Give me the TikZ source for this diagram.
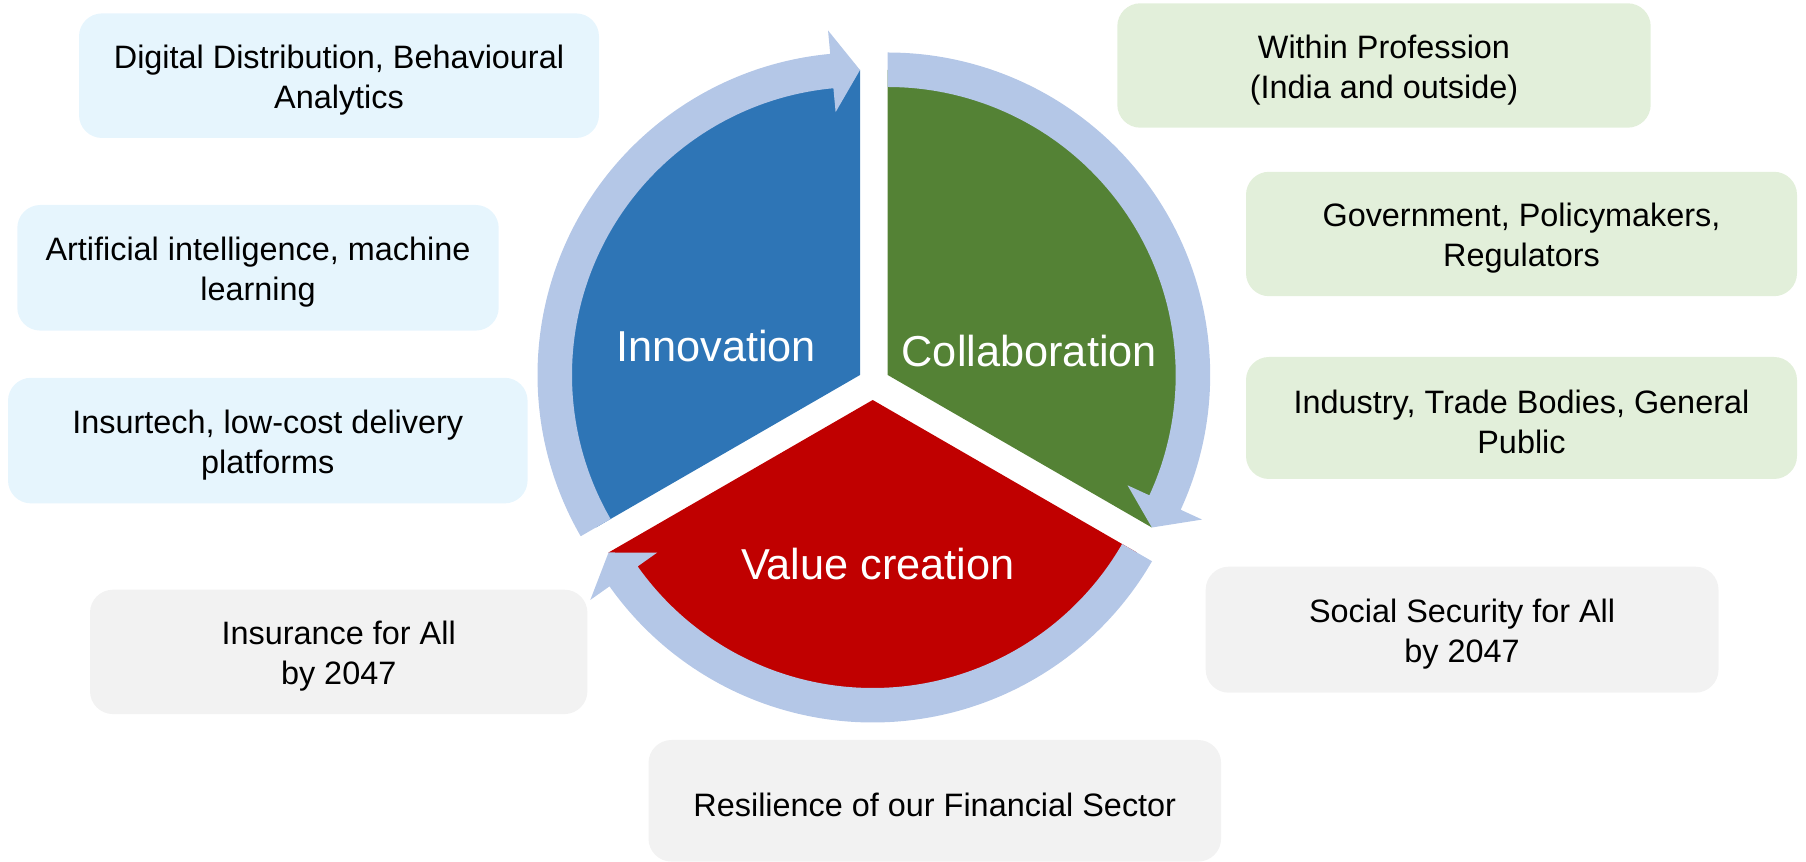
\documentclass[tikz,border=0pt]{standalone}
\usepackage{fontspec}
\setmainfont{Liberation Sans}

\definecolor{innoblue}{RGB}{46,117,182}
\definecolor{collabgreen}{RGB}{84,130,53}
\definecolor{valuered}{RGB}{192,0,0}
\definecolor{ringblue}{RGB}{180,199,231}
\definecolor{boxblue}{RGB}{230,245,253}
\definecolor{boxgreen}{RGB}{226,239,218}
\definecolor{boxgrey}{RGB}{242,242,242}

% keeps the first line of a box a little lower
\newcommand{\boxstrut}{\rule{0pt}{16pt}}

% curved arrow round one sector: centre, tail angle, tip angle
\newcommand{\cyclearrow}[3]{%
  \begin{scope}[shift={#1}]
    \pgfmathsetmacro{\backangle}{#3+5.3}
    \fill[ringblue] (#2:288) arc[start angle=#2, end angle=\backangle, radius=288]
      -- (\backangle:264) -- (#3:305) -- (\backangle:346) -- (\backangle:322.5)
      arc[start angle=\backangle, end angle=#2, radius=322.5] -- cycle;
  \end{scope}}

\begin{document}
\begin{tikzpicture}[x=0.5pt,y=0.5pt]
\tikzset{ideabox/.style={rounded corners=11.5pt, inner sep=0pt, align=center, text=black, font=\fontsize{16.2}{20}\selectfont}}
\tikzset{cyclelabel/.style={inner sep=0pt, anchor=base, text=white, font=\fontsize{21.65}{26}\selectfont}}
\useasboundingbox (0,0) rectangle (1806,862);

% centres of the three sectors
\coordinate (inno) at (860,487);
\coordinate (collab) at (887.7,487);
\coordinate (value) at (872.7,462);

\fill[innoblue] (inno) -- ++(90:305) arc[start angle=90, end angle=210, radius=305] -- cycle;
\fill[collabgreen] (collab) -- ++(90:305) arc[start angle=90, end angle=-30, radius=305] -- cycle;
\fill[valuered] (value) -- ++(-30:305) arc[start angle=-30, end angle=-150, radius=305] -- cycle;

% ring of arrows on top
\cyclearrow{(inno)}{210}{90}
\cyclearrow{(collab)}{90}{-30}
\cyclearrow{(value)}{330}{210}

\node[cyclelabel] (innolbl) at (716,500.3) {Innovation};
\node[cyclelabel] (collablbl) at (1029.3,495.3) {Collaboration};
\node[cyclelabel] (valuelbl) at (878,282.6) {Value creation};

% innovation side
\node[ideabox, fill=boxblue, minimum width=260pt, minimum height=62.3pt] (digital) at (339,786.3) {\boxstrut Digital Distribution, Behavioural\\Analytics};
\node[ideabox, fill=boxblue, minimum width=240.7pt, minimum height=62.8pt] (ai) at (258,594.2) {\boxstrut Artificial intelligence, machine\\learning};
\node[ideabox, fill=boxblue, minimum width=259.8pt, minimum height=62.8pt] (insurtech) at (267.8,421.4) {\boxstrut Insurtech, low-cost delivery\\platforms};

% collaboration side
\node[ideabox, fill=boxgreen, minimum width=266.7pt, minimum height=62.2pt] (profession) at (1384,796.5) {\boxstrut Within Profession\\(India and outside)};
\node[ideabox, fill=boxgreen, minimum width=275.5pt, minimum height=62.2pt] (govt) at (1521.5,628) {\boxstrut Government, Policymakers,\\Regulators};
\node[ideabox, fill=boxgreen, minimum width=275.5pt, minimum height=61pt] (industry) at (1521.5,444) {\boxstrut Industry, Trade Bodies, General\\Public};

% goals
\node[ideabox, fill=boxgrey, minimum width=248.7pt, minimum height=62.2pt] (insurance) at (338.7,210.1) {\boxstrut Insurance for All\\by 2047};
\node[ideabox, fill=boxgrey, minimum width=256.4pt, minimum height=63pt] (social) at (1462.1,232.3) {\boxstrut Social Security for All\\by 2047};
\node[ideabox, fill=boxgrey, minimum width=286.3pt, minimum height=60.8pt] (resilience) at (934.8,61.2) {\boxstrut Resilience of our Financial Sector};
\end{tikzpicture}
\end{document}
